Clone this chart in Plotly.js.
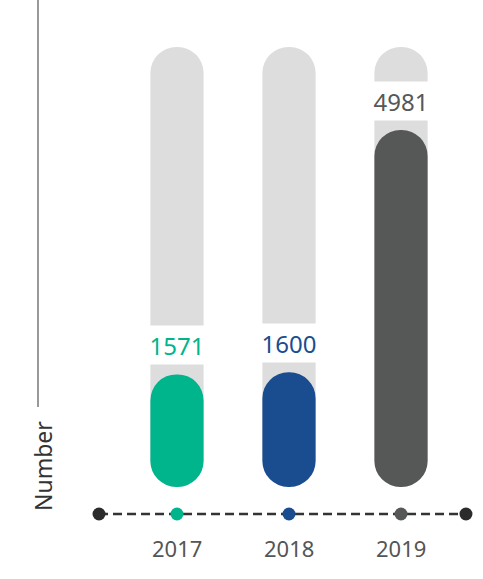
<!DOCTYPE html>
<html>
<head>
<meta charset="utf-8">
<script src="https://cdn.plot.ly/plotly-3.0.1.min.js"></script>
<style>
  html, body { margin: 0; padding: 0; background: #ffffff; }
  #chart { width: 483px; height: 579px; }
</style>
</head>
<body>
<div id="chart"></div>
<script>
// Yearly counts
const years = ['2017', '2018', '2019'];
const counts = [1571, 1600, 4981];
const trackMax = [6140, 6140, 6140];
const barColors = ['#00B48C', '#1A4D8F', '#565857'];
const yAxisLabel = 'Number';

// Layout constants
const FONT = '"Noto Sans", "Open Sans", sans-serif';
const TRACK_GRAY = '#DDDDDD';
const BAR_W = 0.475;
const Y_RANGE = [-1284, 6795];
const X_RANGE = [-1.58, 2.732];
const AXIS_LEVEL = -377;
const AXIS_ENDS = [-0.696, 2.58];

const xs = years.map((_, i) => i);

// Bars with an explicit base get rounded ends on both sides (pill shape)
function pill(values, color) {
  return {
    type: 'bar', x: xs, y: values,
    base: values.map(() => 0),
    width: BAR_W,
    marker: { color: color, cornerradius: '50%', line: { width: 0 } },
    hoverinfo: 'skip', showlegend: false
  };
}

const traces = [
  pill(trackMax, TRACK_GRAY),
  pill(counts, barColors),
  {
    type: 'scatter', mode: 'lines+markers',
    x: [AXIS_ENDS[0], ...xs, AXIS_ENDS[1]],
    y: [AXIS_LEVEL, ...xs.map(() => AXIS_LEVEL), AXIS_LEVEL],
    line: { color: '#333333', width: 2.5, dash: '9px,5px' },
    marker: { size: 13, color: ['#2B2B2B', ...barColors, '#2B2B2B'] },
    cliponaxis: false,
    hoverinfo: 'skip', showlegend: false
  }
];

// Value labels sit in a white box just above each bar
const valueLabels = counts.map((v, i) => ({
  x: xs[i], y: v, xref: 'x', yref: 'y',
  text: String(v), showarrow: false,
  yanchor: 'bottom', yshift: 9,
  width: 58, height: 38, borderpad: 0,
  bgcolor: '#ffffff',
  font: { family: FONT, size: 24, color: barColors[i] }
}));

const yearLabels = years.map((yr, i) => ({
  x: xs[i], y: AXIS_LEVEL, xref: 'x', yref: 'y',
  text: yr, showarrow: false,
  yanchor: 'middle', yshift: -34,
  font: { family: FONT, size: 22, color: '#555555' }
}));

const axisTitle = {
  x: 43 / 483, y: 1 - 466 / 579, xref: 'paper', yref: 'paper',
  text: yAxisLabel, textangle: -90, showarrow: false,
  xanchor: 'center', yanchor: 'middle',
  font: { family: FONT, size: 23, color: '#333333' }
};

const layout = {
  width: 483, height: 579,
  margin: { l: 0, r: 0, t: 0, b: 0, pad: 0 },
  paper_bgcolor: '#ffffff', plot_bgcolor: '#ffffff',
  barmode: 'overlay',
  showlegend: false,
  hovermode: false,
  xaxis: {
    range: X_RANGE, showgrid: false, zeroline: false,
    showticklabels: false, showline: false, ticks: ''
  },
  yaxis: {
    range: Y_RANGE, showgrid: false, zeroline: false,
    showticklabels: false, showline: false, ticks: ''
  },
  shapes: [{
    type: 'line', xref: 'paper', yref: 'paper',
    x0: 38 / 483, x1: 38 / 483, y0: 1 - 407 / 579, y1: 1,
    line: { color: '#555555', width: 1.2 }
  }],
  annotations: [...valueLabels, ...yearLabels, axisTitle]
};

Plotly.newPlot('chart', traces, layout, { staticPlot: true, displayModeBar: false });
</script>
</body>
</html>
